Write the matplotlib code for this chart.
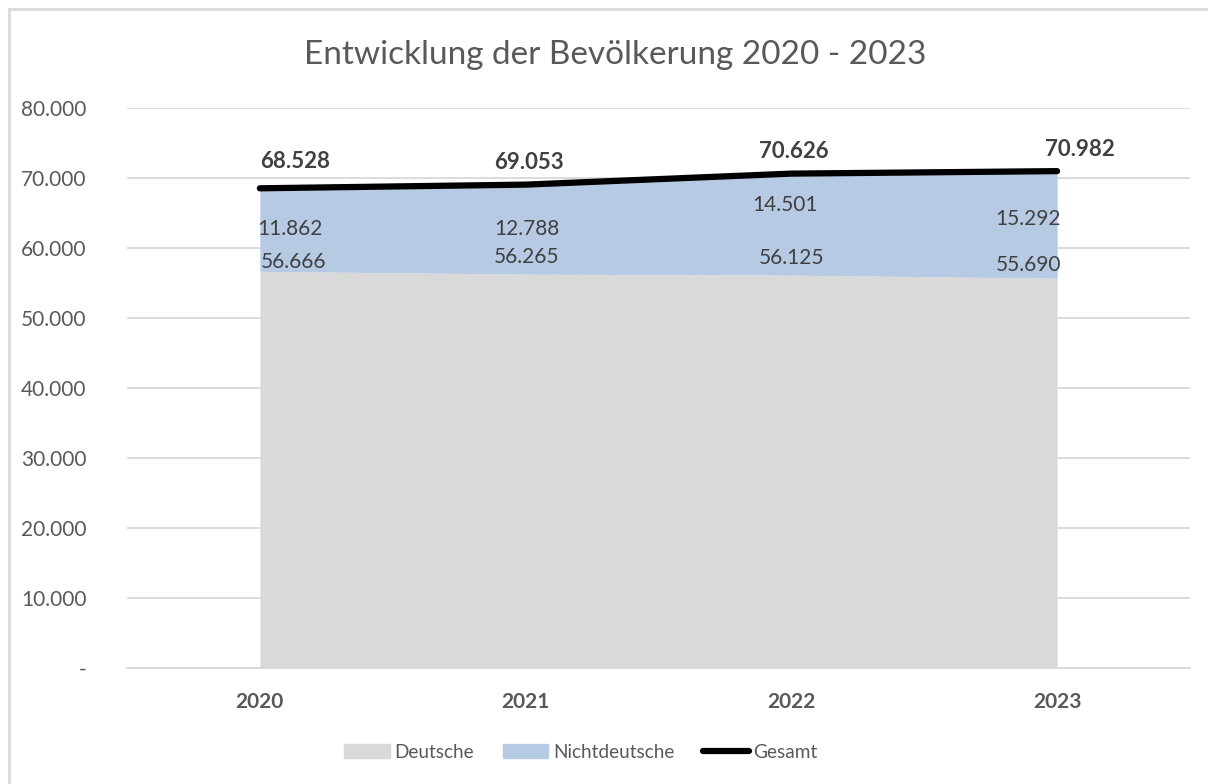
import matplotlib.pyplot as plt
from matplotlib.lines import Line2D
from matplotlib.patches import Patch
from matplotlib.ticker import FuncFormatter

plt.rcParams['font.family'] = ['Lato', 'DejaVu Sans']

# Daten
jahre = ['2020', '2021', '2022', '2023']
deutsche = [56666, 56265, 56125, 55690]
nichtdeutsche = [11862, 12788, 14501, 15292]
gesamt = [68528, 69053, 70626, 70982]

grau = '#D9D9D9'
blau = '#B7CAE4'
text_grau = '#595959'
text_dunkel = '#404040'

fig = plt.figure(figsize=(12.08, 7.84), dpi=100)
ax = fig.add_axes([127 / 1208, 1 - 668 / 784, (1190 - 127) / 1208, (668 - 108) / 784])

x = list(range(len(jahre)))
oben = [d + n for d, n in zip(deutsche, nichtdeutsche)]

ax.fill_between(x, 0, deutsche, color=grau, linewidth=0, zorder=2)
ax.fill_between(x, deutsche, oben, color=blau, linewidth=0, zorder=2)
ax.plot(x, gesamt, color='black', linewidth=4.5, solid_capstyle='round', zorder=4)

# Beschriftungen (Versatz in Pixeln)
ges_dx = [35, 3, 2, 23]
ges_dy = [16, 12, 12, 11]
for i, v in enumerate(gesamt):
    ax.annotate(f'{v:,}'.replace(',', '.'), (i, v), xytext=(ges_dx[i], ges_dy[i]),
                textcoords='offset pixels', ha='center', va='bottom',
                fontsize=16, fontweight='bold', color=text_dunkel, zorder=5)

nd_dy = [-41, -44, -31, -48]
nd_dx = [30, 1, -6, -29]
for i, v in enumerate(nichtdeutsche):
    ax.annotate(f'{v:,}'.replace(',', '.'), (i, gesamt[i]), xytext=(nd_dx[i], nd_dy[i]),
                textcoords='offset pixels', ha='center', va='center',
                fontsize=15, color=text_dunkel, zorder=5)

de_dy = [9, 17, 17, 13]
de_dx = [34, 1, 0, -29]
for i, v in enumerate(deutsche):
    ax.annotate(f'{v:,}'.replace(',', '.'), (i, v), xytext=(de_dx[i], de_dy[i]),
                textcoords='offset pixels', ha='center', va='center',
                fontsize=15, color=text_dunkel, zorder=5)

ax.set_xlim(-0.5, 3.5)
ax.set_ylim(0, 80000)
ax.set_yticks(range(0, 80001, 10000))
ax.yaxis.set_major_formatter(FuncFormatter(
    lambda v, p: '-' if v == 0 else f'{int(v):,}'.replace(',', '.')))
ax.set_xticks(x)
ax.set_xticklabels(jahre, fontweight='bold')
ax.tick_params(axis='both', length=0, labelsize=15, colors=text_grau)
ax.tick_params(axis='x', pad=17)
ax.tick_params(axis='y', pad=29)
ax.grid(axis='y', color=grau, linewidth=1.3, zorder=0)
ax.set_axisbelow(True)
for s in ['top', 'right', 'left']:
    ax.spines[s].set_visible(False)
ax.spines['bottom'].set_color(grau)
ax.spines['bottom'].set_linewidth(1.3)

fig.text(615 / 1208, 1 - 55 / 784, 'Entwicklung der Bevölkerung 2020 - 2023',
         ha='center', va='center', fontsize=24, color=text_grau)

handles = [Patch(color=grau), Patch(color=blau),
           Line2D([0], [0], color='black', linewidth=4.5, solid_capstyle='round')]
fig.legend(handles, ['Deutsche', 'Nichtdeutsche', 'Gesamt'], loc='center',
           bbox_to_anchor=(581 / 1208, 1 - 752 / 784), ncol=3, frameon=False,
           fontsize=13.7, labelcolor=text_grau, handlelength=2.4, handleheight=0.75,
           handletextpad=0.25, columnspacing=1.5)

# Rahmen oben und links
fig.add_artist(Line2D([8.5 / 1208, 1], [1 - 8.5 / 784] * 2, color=grau, linewidth=2,
                      transform=fig.transFigure))
fig.add_artist(Line2D([8.5 / 1208] * 2, [0, 1 - 8.5 / 784], color=grau, linewidth=2,
                      transform=fig.transFigure))

fig.savefig('out.png', dpi=100)
